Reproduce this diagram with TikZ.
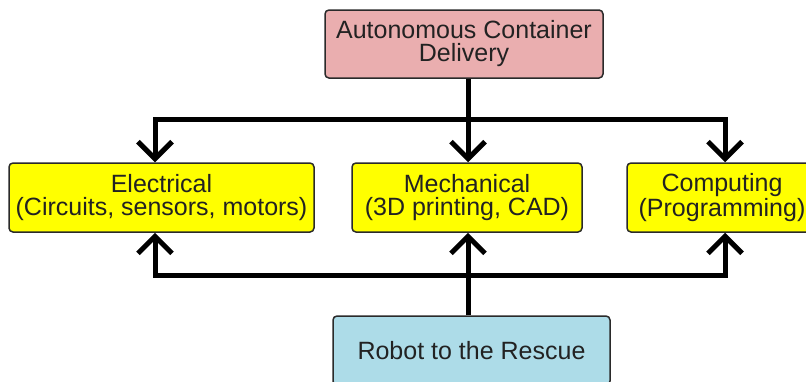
\documentclass[tikz,border=0pt]{standalone}
\usepackage{fontspec}
\setmainfont{Liberation Sans}
\usetikzlibrary{arrows.meta}
\definecolor{pinkbox}{HTML}{EAAEAF}
\definecolor{yellowbox}{HTML}{FFFF00}
\definecolor{bluebox}{HTML}{ADDCE8}
\definecolor{edge}{HTML}{2A2A2A}
\definecolor{txt}{HTML}{222222}
\tikzset{
  box/.style={draw=edge, line width=1.5pt, rounded corners=4pt, inner sep=0pt,
    align=center, text=txt, font=\fontsize{25}{23}\selectfont},
  conn/.style={line width=5pt, black},
  tipd/.style={-{Straight Barb[length=17pt,width=34pt]}},
  tipb/.style={{Straight Barb[length=17pt,width=34pt]}-{Straight Barb[length=17pt,width=34pt]}},
}
\begin{document}
\begin{tikzpicture}[x=1pt,y=-1pt]
\useasboundingbox (0,0) rectangle (806,381);
\clip (0,0) rectangle (806,381);
\node[box, fill=pinkbox, minimum width=278pt, minimum height=68pt] (top) at (464,44) {Autonomous Container\\Delivery};
\node[box, fill=yellowbox, minimum width=305pt, minimum height=69pt] (elec) at (161.5,197.5) {Electrical\\(Circuits, sensors, motors)};
\node[box, fill=yellowbox, minimum width=230pt, minimum height=69pt] (mech) at (467,197.5) {Mechanical\\(3D printing, CAD)};
\node[box, fill=yellowbox, minimum width=190pt, minimum height=69pt] (comp) at (722,197.5) {Computing\\(Programming)};
\node[box, fill=bluebox, minimum width=277pt, minimum height=69pt] (bot) at (471.5,350.5) {Robot to the Rescue};
\coordinate (tl) at (155,119);
\coordinate (tr) at (725,119);
\coordinate (bl) at (155,275);
\coordinate (br) at (725,275);
\coordinate (mx) at (468,0);
\draw[conn, tipb] (elec.north -| tl) -- (tl) -- (tr) -- (comp.north -| tr);
\draw[conn, tipd] (top.south -| mx) -- (mech.north -| mx);
\draw[conn, tipb] (elec.south -| bl) -- (bl) -- (br) -- (comp.south -| br);
\draw[conn, tipd] (bot.north -| mx) -- (mech.south -| mx);
\end{tikzpicture}
\end{document}
